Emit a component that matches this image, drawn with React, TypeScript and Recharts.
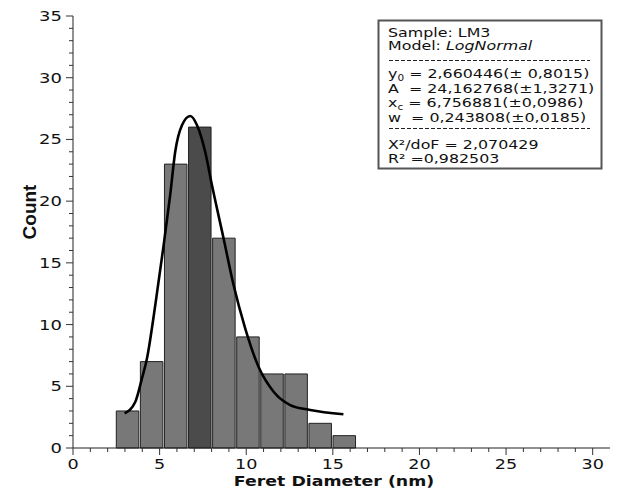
import React from 'react';
import { ComposedChart, Line, XAxis, YAxis, ReferenceArea } from 'recharts';

// Histogram bins (bin centre in nm) and counts
const binCenters = [3.15, 4.54, 5.93, 7.32, 8.71, 10.1, 11.49, 12.88, 14.27, 15.66];
const binCounts = [3, 7, 23, 26, 17, 9, 6, 6, 2, 1];
const highlightBin = 3;

// LogNormal fit curve
const fitX = [2.98, 3.6, 3.98, 4.27, 4.75, 5.23, 5.61, 5.9, 6.29, 6.77, 7.16, 7.63, 8.02, 8.69, 9.27, 9.94, 10.71, 11.58, 12.54, 13.69, 15.61];
const fitY = [2.81, 3.75, 5.64, 7.26, 11.58, 16.4, 20.5, 24.0, 26.15, 26.9, 26.15, 24.0, 21.3, 17.0, 13.2, 9.7, 6.58, 4.56, 3.48, 3.08, 2.73];

// Ticks
const xTicks = [0, 1, 2, 3, 4, 5, 6, 7, 8, 9, 10, 11, 12, 13, 14, 15, 16, 17, 18, 19, 20, 21, 22, 23, 24, 25, 26, 27, 28, 29, 30];
const yTicks = [0, 1, 2, 3, 4, 5, 6, 7, 8, 9, 10, 11, 12, 13, 14, 15, 16, 17, 18, 19, 20, 21, 22, 23, 24, 25, 26, 27, 28, 29, 30, 31, 32, 33, 34, 35];
const majorStep = 5;

const xLabel = 'Feret Diameter (nm)';
const yLabel = 'Count';

const fitData = fitX.map((x, i) => ({ x, y: fitY[i] }));

const SX = 1.24;
const FONT = "'DejaVu Sans', Verdana, sans-serif";
const TICK_COLOR = '#333';
const BAR_HALF = 0.65;

const BottomTick = (props: any) => {
  const { x, y, payload } = props;
  const v = payload.value;
  const major = v % majorStep === 0;
  return (
    <g>
      <line x1={x} x2={x} y1={y} y2={y + (major ? 7 : 4)} stroke={TICK_COLOR} strokeWidth={1} />
      {major && (
        <text transform={`translate(${x},${y + 20.5}) scale(${SX},1)`} textAnchor="middle" fontFamily={FONT} fontSize={14.2} fill="#111">
          {v}
        </text>
      )}
    </g>
  );
};

const TopTick = (props: any) => {
  const { x, y, payload } = props;
  const major = payload.value % majorStep === 0;
  return <line x1={x} x2={x} y1={y} y2={y - (major ? 7 : 4)} stroke={TICK_COLOR} strokeWidth={1} />;
};

const LeftTick = (props: any) => {
  const { x, y, payload } = props;
  const v = payload.value;
  const major = v % majorStep === 0;
  return (
    <g>
      <line x1={x} x2={x - (major ? 7 : 4)} y1={y} y2={y} stroke={TICK_COLOR} strokeWidth={1} />
      {major && (
        <text transform={`translate(${x - 11},${y + 5}) scale(${SX},1)`} textAnchor="end" fontFamily={FONT} fontSize={14.5} fill="#111">
          {v}
        </text>
      )}
    </g>
  );
};

const RightTick = (props: any) => {
  const { x, y, payload } = props;
  const major = payload.value % majorStep === 0;
  return <line x1={x} x2={x + (major ? 7 : 4)} y1={y} y2={y} stroke={TICK_COLOR} strokeWidth={1} />;
};

const Legend = () => {
  const lx = 388;
  const t = (y: number) => `translate(${lx},${y}) scale(${SX},1)`;
  const common = { fontFamily: FONT, fontSize: 12.8, fill: '#111', style: { whiteSpace: 'pre' as const } };
  return (
    <svg width={623} height={489} style={{ position: 'absolute', left: 0, top: 0, pointerEvents: 'none' }}>
      <rect x={378.5} y={20.5} width={223} height={148} fill="#fff" stroke="#555" strokeWidth={2} />
      <text transform={t(36.5)} {...common}>Sample: LM3</text>
      <text transform={t(49.5)} {...common}>Model: <tspan fontStyle="italic">LogNormal</tspan></text>
      <line x1={389} x2={590} y1={60.5} y2={60.5} stroke="#222" strokeWidth={1} strokeDasharray="4 2" />
      <text transform={t(78)} {...common}>y<tspan fontSize={8.5} dy={2.5}>0</tspan><tspan dy={-2.5}> = 2,660446(± 0,8015)</tspan></text>
      <text transform={t(92.5)} {...common}>A  = 24,162768(±1,3271)</text>
      <text transform={t(107)} {...common}>x<tspan fontSize={8.5} dy={2.5}>c</tspan><tspan dy={-2.5}> = 6,756881(±0,0986)</tspan></text>
      <text transform={t(121.5)} {...common}>w  = 0,243808(±0,0185)</text>
      <line x1={389} x2={590} y1={128.5} y2={128.5} stroke="#222" strokeWidth={1} strokeDasharray="4 2" />
      <text transform={t(148.5)} {...common}>X²/doF = 2,070429</text>
      <text transform={t(162.5)} {...common}>R² =0,982503</text>
    </svg>
  );
};

export default function App() {
  return (
    <div style={{ position: 'absolute', left: 0, top: 0, width: 623, height: 489, background: '#fff' }}>
      <ComposedChart width={623} height={489} data={fitData} margin={{ top: 16, right: 13, left: 0, bottom: 0 }}>
        <XAxis
          xAxisId={0}
          dataKey="x"
          type="number"
          domain={[0, 31]}
          allowDataOverflow
          ticks={xTicks}
          interval={0}
          tickSize={0}
          tickMargin={0}
          tickLine={false}
          tick={<BottomTick />}
          height={41}
          axisLine={{ stroke: '#222', strokeWidth: 1 }}
          label={{
            content: () => (
              <text transform={`translate(334,485.5) scale(${SX},1)`} textAnchor="middle" fontFamily={FONT} fontWeight="bold" fontSize={14} fill="#111">
                {xLabel}
              </text>
            ),
          }}
        />
        <XAxis
          xAxisId="top"
          orientation="top"
          type="number"
          domain={[0, 31]}
          allowDataOverflow
          ticks={xTicks}
          interval={0}
          tickSize={0}
          tickMargin={0}
          tickLine={false}
          tick={<TopTick />}
          height={0}
          axisLine={{ stroke: '#222', strokeWidth: 1 }}
        />
        <YAxis
          yAxisId={0}
          type="number"
          domain={[0, 35]}
          allowDataOverflow
          ticks={yTicks}
          interval={0}
          tickSize={0}
          tickMargin={0}
          tickLine={false}
          tick={<LeftTick />}
          width={73}
          axisLine={{ stroke: '#222', strokeWidth: 1 }}
          label={{
            content: () => (
              <text transform="translate(36,212) rotate(-90)" textAnchor="middle" fontFamily="'Liberation Sans Narrow', 'Liberation Sans', Arial, sans-serif" fontWeight="bold" fontSize={19} fill="#111">
                {yLabel}
              </text>
            ),
          }}
        />
        <YAxis
          yAxisId="right"
          orientation="right"
          type="number"
          domain={[0, 35]}
          allowDataOverflow
          ticks={yTicks}
          interval={0}
          tickSize={0}
          tickMargin={0}
          tickLine={false}
          tick={<RightTick />}
          width={0}
          axisLine={{ stroke: '#222', strokeWidth: 1 }}
        />
        {binCenters.map((c, i) => (
          <ReferenceArea
            key={i}
            xAxisId={0}
            yAxisId={0}
            x1={c - BAR_HALF}
            x2={c + BAR_HALF}
            y1={0}
            y2={binCounts[i]}
            fill={i === highlightBin ? '#4b4b4b' : '#787878'}
            fillOpacity={1}
            stroke="#222"
            strokeWidth={1}
            strokeOpacity={1}
          />
        ))}
        <Line
          xAxisId={0}
          yAxisId={0}
          type="monotone"
          dataKey="y"
          stroke="#000"
          strokeWidth={2.6}
          dot={false}
          activeDot={false}
          isAnimationActive={false}
        />
      </ComposedChart>
      <Legend />
    </div>
  );
}
